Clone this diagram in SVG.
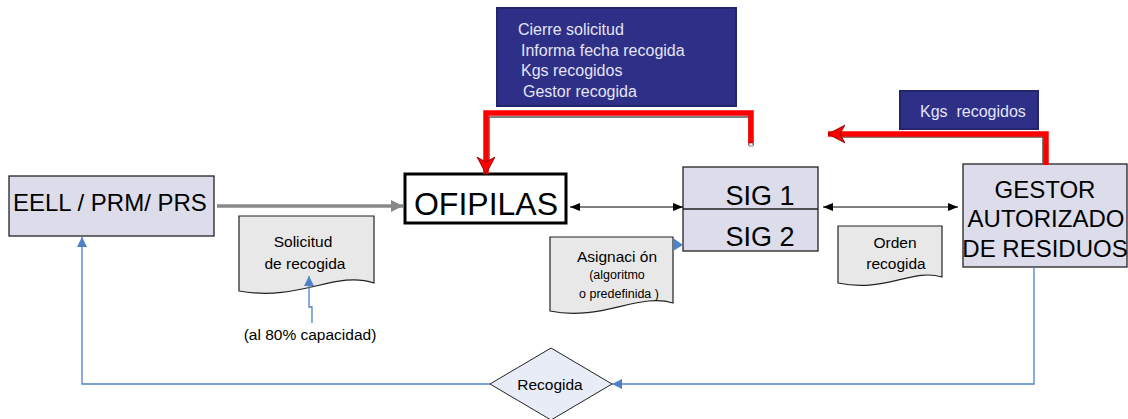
<svg xmlns="http://www.w3.org/2000/svg" width="1128" height="419" viewBox="0 0 1128 419">
<style>
text{font-family:"Liberation Sans",Arial,sans-serif;fill:#000}
.box{fill:#dcdcea;stroke:#222;stroke-width:1.3}
.doc{fill:#e8e8e8;stroke:#222;stroke-width:1.2}
.dark{fill:#2e3088;stroke:#23246c;stroke-width:2}
.lt{fill:#e4e4f4;font-size:16px}
.lbl{font-size:15.5px;text-anchor:middle}
.blue{fill:none;stroke:#4f81c6;stroke-width:1.3}
.red{fill:none;stroke:#ff0000;stroke-width:5.5}
.shadow{fill:none;stroke:#555;stroke-width:1.5}
</style>
<defs>
<marker id="ag" markerUnits="userSpaceOnUse" markerWidth="12" markerHeight="12" refX="12" refY="6" orient="auto"><path d="M0,0 L12,6 L0,12 z" fill="#888"/></marker>
<marker id="ab" markerUnits="userSpaceOnUse" markerWidth="10" markerHeight="8" refX="10" refY="4" orient="auto-start-reverse"><path d="M0,0 L10,4 L0,8 z" fill="#000"/></marker>
<marker id="abl" markerUnits="userSpaceOnUse" markerWidth="10" markerHeight="10" refX="10" refY="5" orient="auto"><path d="M0,0 L10,5 L0,10 z" fill="#4f81c6"/></marker>
<marker id="ar" markerUnits="userSpaceOnUse" markerWidth="18" markerHeight="20" refX="17" refY="10" orient="auto"><path d="M0,1 L17,10 L0,19 L5,10 z" fill="#ff0000" stroke="#7a0000" stroke-width="0.8"/></marker>
</defs>

<g id="top-info">
<rect class="dark" x="497" y="8" width="239" height="98"/>
<text class="lt" x="518" y="35">Cierre solicitud</text>
<text class="lt" x="521" y="56">Informa fecha recogida</text>
<text class="lt" x="521" y="76">Kgs recogidos</text>
<text class="lt" x="523" y="97">Gestor recogida</text>
</g>

<g id="kgs-info">
<rect class="dark" x="900" y="91" width="138" height="38"/>
<text class="lt" x="920" y="117" xml:space="preserve">Kgs  recogidos</text>
</g>

<g id="eell">
<rect class="box" x="9" y="176" width="205" height="60"/>
<text x="13" y="211" font-size="24">EELL / PRM/ PRS</text>
</g>

<g id="ofipilas">
<rect x="405" y="174" width="161" height="49" fill="#fff" stroke="#000" stroke-width="3"/>
<text x="486" y="215" font-size="32" text-anchor="middle">OFIPILAS</text>
</g>

<g id="sig">
<rect class="box" x="683" y="167" width="135" height="84"/>
<line x1="683" y1="209" x2="818" y2="209" stroke="#222" stroke-width="1.3"/>
<text x="760" y="205" font-size="27" text-anchor="middle">SIG 1</text>
<text x="760" y="246" font-size="27" text-anchor="middle">SIG 2</text>
</g>

<g id="gestor">
<rect class="box" x="963" y="164" width="164" height="103"/>
<text x="1045" y="198" font-size="24" text-anchor="middle">GESTOR</text>
<text x="1046" y="227" font-size="24" text-anchor="middle">AUTORIZADO</text>
<text x="1045" y="257" font-size="24" text-anchor="middle">DE RESIDUOS</text>
</g>

<g id="solicitud">
<path class="doc" d="M239,216 H374 V283 C335,270 300,302 239,291 Z"/>
<text class="lbl" x="303" y="247">Solicitud</text>
<text class="lbl" x="305" y="269">de recogida</text>
</g>

<g id="capacidad">
<text class="lbl" x="310" y="340">(al 80% capacidad)</text>
</g>

<g id="asignacion">
<path class="doc" d="M550,237 H673 V303 C640,292 600,322 550,311 Z"/>
<text x="617" y="262" font-size="15.5" text-anchor="middle">Asignaci ón</text>
<text x="617" y="279" font-size="12.5" text-anchor="middle">(algoritmo</text>
<text x="619" y="298" font-size="12.5" text-anchor="middle">o predefinida )</text>
</g>

<g id="orden">
<path class="doc" d="M838,226 H942 V277 C912,268 885,293 838,283 Z"/>
<text class="lbl" x="895" y="248">Orden</text>
<text class="lbl" x="896" y="269">recogida</text>
</g>

<g id="recogida">
<polygon points="490,384 551,348 612,384 551,420" fill="#e8ecf6" stroke="#222" stroke-width="1"/>
<text class="lbl" x="550" y="390">Recogida</text>
</g>

<g id="connectors">
<line x1="217" y1="206" x2="403" y2="206" stroke="#888" stroke-width="3.5" marker-end="url(#ag)"/>
<line x1="570" y1="207" x2="683" y2="207" stroke="#000" stroke-width="1" marker-start="url(#ab)" marker-end="url(#ab)"/>
<line x1="823" y1="207" x2="958" y2="207" stroke="#000" stroke-width="1" marker-start="url(#ab)" marker-end="url(#ab)"/>
<path class="shadow" d="M749,143 V117 H489 V162"/>
<path class="red" d="M751,145 V113 H486 V174" marker-end="url(#ar)"/>
<rect x="749" y="143" width="4" height="3" fill="#fff" stroke="#333" stroke-width="0.6"/>
<path class="shadow" d="M1043,163 V137 H842"/>
<path class="red" d="M1046,165 V134 H828" marker-end="url(#ar)"/>
<path class="blue" d="M1034,267 V384 H612" marker-end="url(#abl)"/>
<path class="blue" d="M490,384 H82 V237" marker-end="url(#abl)"/>
<path class="blue" d="M312,323 V307 H309 V276" marker-end="url(#abl)"/>
<polygon points="673,238 683,245 673,251" fill="#4f81c6"/>
</g>
</svg>
